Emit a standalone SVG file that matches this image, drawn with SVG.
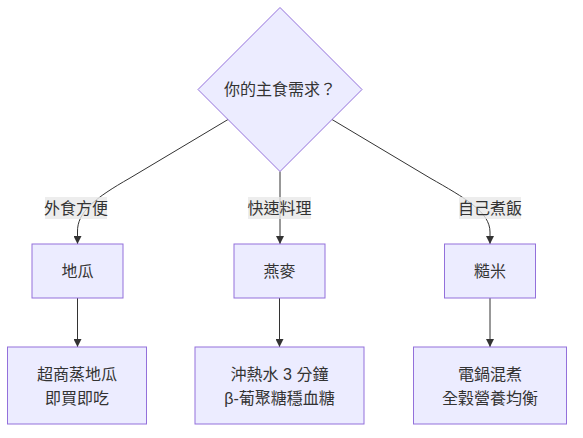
<svg xmlns="http://www.w3.org/2000/svg" width="583" height="438" viewBox="0 0 583 438">
<defs>
<marker id="arrow" viewBox="0 0 10 10" refX="10" refY="5" markerWidth="8" markerHeight="8" markerUnits="userSpaceOnUse" orient="auto">
<path d="M0,0 L10,5 L0,10 z" fill="#333333"/>
</marker>
</defs>
<style>
.node{fill:#ECECFF;stroke:#9370DB;stroke-width:1}
.edge{fill:none;stroke:#333333;stroke-width:1;marker-end:url(#arrow)}
.lbg{fill:#e8e8e8;fill-opacity:0.8}
text{font-family:"Liberation Sans","Noto Sans CJK TC",sans-serif;font-size:16px;fill:#333333;text-anchor:middle;dominant-baseline:central}
</style>
<rect width="583" height="438" fill="#ffffff"/>
<g id="connectors">
<path class="edge" d="M228,119.5 L130,178 C95,198 77,212 77.5,232 L77.5,244"/>
<path class="edge" d="M280,171.5 L280,244"/>
<path class="edge" d="M332,119.5 L430,178 C465,198 490,212 490,232 L490,244"/>
<path class="edge" d="M77.5,298 L77.5,347"/>
<path class="edge" d="M279.5,298 L279.5,347"/>
<path class="edge" d="M490,298 L490,347"/>
<g id="label-eat-out"><rect class="lbg" x="45" y="197" width="62" height="22"/><text x="76" y="208">外食方便</text></g>
<g id="label-quick"><rect class="lbg" x="248" y="197" width="63" height="22"/><text x="279.5" y="208">快速料理</text></g>
<g id="label-cook"><rect class="lbg" x="459" y="197" width="62" height="22"/><text x="490" y="208">自己煮飯</text></g>
</g>
<g id="decision">
<polygon class="node" points="280,7.5 362,89.5 280,171.5 198,89.5"/>
<text x="280" y="89.5">你的主食需求？</text>
</g>
<g id="sweet-potato">
<rect class="node" x="32" y="244" width="91" height="54"/>
<text x="77.5" y="271">地瓜</text>
</g>
<g id="oats">
<rect class="node" x="234" y="244" width="91" height="54"/>
<text x="279.5" y="271">燕麥</text>
</g>
<g id="brown-rice">
<rect class="node" x="444.5" y="244" width="91" height="54"/>
<text x="490" y="271">糙米</text>
</g>
<g id="store-sweet-potato">
<rect class="node" x="7.5" y="347" width="139" height="77"/>
<text x="77" y="374">超商蒸地瓜</text>
<text x="77" y="398">即買即吃</text>
</g>
<g id="hot-water-oats">
<rect class="node" x="195" y="347" width="169" height="77"/>
<text x="279.5" y="374">沖熱水 3 分鐘</text>
<text x="279.5" y="398">β-葡聚糖穩血糖</text>
</g>
<g id="rice-cooker">
<rect class="node" x="413.5" y="347" width="153" height="77"/>
<text x="490" y="374">電鍋混煮</text>
<text x="490" y="398">全穀營養均衡</text>
</g>
</svg>
